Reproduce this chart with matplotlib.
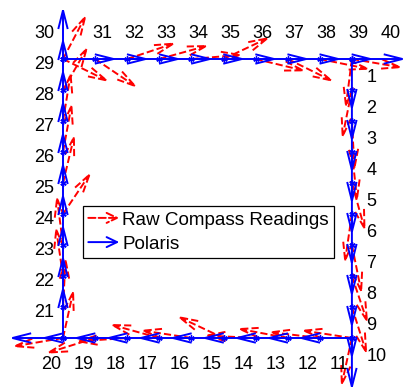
import numpy as np
import matplotlib
matplotlib.use('Agg')
import matplotlib.pyplot as plt
from matplotlib.patches import FancyArrowPatch
from matplotlib.lines import Line2D
from matplotlib.legend_handler import HandlerBase

plt.rcParams['font.family'] = ['Liberation Sans', 'DejaVu Sans']

# ---------------- data ----------------
steps = list(range(1, 41))
pos_x = [9] * 10 + [9, 8, 7, 6, 5, 4, 3, 2, 1, 0] + [0] * 10 + [0, 1, 2, 3, 4, 5, 6, 7, 8, 9]
pos_y = [9, 8, 7, 6, 5, 4, 3, 2, 1, 0] + [0] * 10 + [0, 1, 2, 3, 4, 5, 6, 7, 8, 9] + [9] * 10
polaris_heading = [180] * 10 + [270] * 10 + [0] * 10 + [90] * 10
compass_heading = [187, 191, 177, 174, 165, 188, 169, 162, 163, 192,
                   279, 277, 281, 273, 296, 279, 286, 266, 252, 260,
                   12, 3, 352, 353, 33, 13, 10, 9, 29, 27,
                   117, 125, 71, 74, 85, 64, 104, 117, 102, 100]
legend_labels = ['Raw Compass Readings', 'Polaris']

# ---------------- figure ----------------
W, H, DPI = 407, 392, 100
fig = plt.figure(figsize=(W / DPI, H / DPI), dpi=DPI)
ax = fig.add_axes([0, 0, 1, 1])
ax.set_axis_off()
px_x, px_y, x0, y0 = 32.1, 31.0, 63, 338
ax.set_xlim(-x0 / px_x, (W - x0) / px_x)
ax.set_ylim((y0 - H) / px_y, y0 / px_y)

BLUE = (0, 0, 1)
RED = (1, 0, 0)
L_blue, L_red = 1.7, 1.64
head_main = "->,head_length=13.5,head_width=3.4"


def draw_arrows(headings, length, color, ls, zorder):
    for x, y, h in zip(pos_x, pos_y, headings):
        t = np.deg2rad(h)
        u, v = length * np.sin(t), length * np.cos(t)
        p = FancyArrowPatch((x, y), (x + u, y + v), arrowstyle=head_main,
                            mutation_scale=1, shrinkA=0, shrinkB=0,
                            color=color, lw=1.4, linestyle=ls,
                            zorder=zorder, clip_on=False,
                            capstyle='butt', joinstyle='miter')
        ax.add_patch(p)


draw_arrows(compass_heading, L_red, RED, '--', 2)
draw_arrows(polaris_heading, L_blue, BLUE, '-', 3)
ax.plot(pos_x, pos_y, ls='none', marker=(6, 2, 0), ms=4.5, mew=1,
        color=BLUE, zorder=4)

# step labels (offsets in points, one per side of the square)
side_offsets = [(10.4, -16.9), (-15.8, -22.0), (-20.9, 14.8), (20.9, 14.8)]
for s, x, y in zip(steps, pos_x, pos_y):
    dx, dy = side_offsets[(s - 1) // 10]
    ax.annotate(str(s), xy=(x, y), xytext=(dx, dy), textcoords='offset points',
                ha='left', va='baseline', fontsize=13, color='black')


# legend with arrow handles
class ArrowHandler(HandlerBase):
    def __init__(self, color, ls):
        super().__init__()
        self.color, self.ls = color, ls

    def create_artists(self, legend, orig_handle, xdescent, ydescent,
                       width, height, fontsize, trans):
        yc = height / 2 - ydescent
        p = FancyArrowPatch((-xdescent, yc), (-xdescent + width, yc),
                            arrowstyle="->,head_length=7.5,head_width=3.6",
                            mutation_scale=1, shrinkA=0, shrinkB=0,
                            color=self.color, lw=1.4, linestyle=self.ls,
                            transform=trans)
        return [p]


h_red = Line2D([], [], color=RED, ls='--')
h_blue = Line2D([], [], color=BLUE, ls='-')
leg = ax.legend([h_red, h_blue], legend_labels,
                handler_map={h_red: ArrowHandler(RED, '--'),
                             h_blue: ArrowHandler(BLUE, '-')},
                loc='upper left', bbox_to_anchor=(83 / W, 1 - 206 / H),
                bbox_transform=fig.transFigure, fontsize=13.6,
                frameon=True, fancybox=False, framealpha=1,
                edgecolor='black', borderpad=0.28, labelspacing=0.37,
                handlelength=1.64, handletextpad=0.16, borderaxespad=0)
leg.get_frame().set_linewidth(0.9)
leg.set_zorder(5)

fig.savefig('out.png', dpi=DPI)
